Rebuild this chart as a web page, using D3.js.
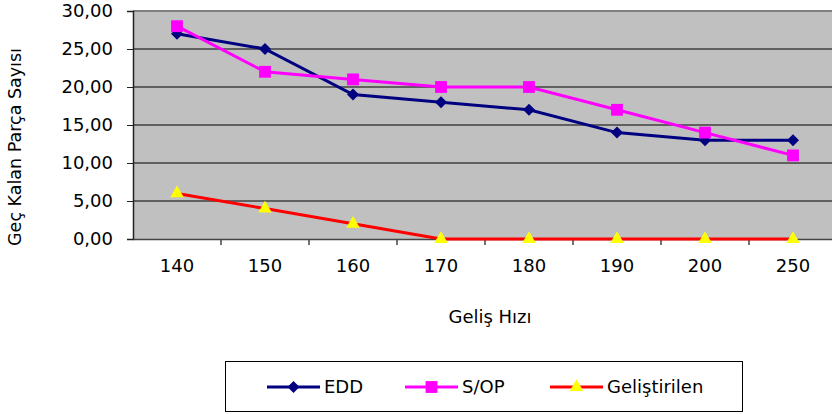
<!DOCTYPE html>
<html>
<head>
<meta charset="utf-8">
<script src="https://cdn.jsdelivr.net/npm/d3@7"></script>
<style>
  html, body { margin: 0; padding: 0; background: #fff; }
  svg { display: block; font-family: "DejaVu Sans", sans-serif; }
</style>
</head>
<body>
<svg id="chart"></svg>
<script>
const categories = ["140", "150", "160", "170", "180", "190", "200", "250"];
const eddValues = [27, 25, 19, 18, 17, 14, 13, 13];
const sopValues = [28, 22, 21, 20, 20, 17, 14, 11];
const gelValues = [6, 4, 2, 0, 0, 0, 0, 0];
const yTicks = [0, 5, 10, 15, 20, 25, 30];
const seriesNames = ["EDD", "S/OP", "Geliştirilen"];

const width = 832, height = 414;
const plot = {left: 133, top: 11, bottom: 239, bandW: 88};

const svg = d3.select("#chart").attr("width", width).attr("height", height);

const x = d3.scaleBand()
  .domain(categories)
  .range([plot.left, plot.left + plot.bandW * categories.length]);
const y = d3.scaleLinear().domain([0, 30]).range([plot.bottom, plot.top]);
const cx = d => x(d) + x.bandwidth() / 2;

// plot area
svg.append("rect")
  .attr("x", plot.left).attr("y", plot.top)
  .attr("width", x.range()[1] - plot.left)
  .attr("height", plot.bottom - plot.top)
  .attr("fill", "#c0c0c0");

// gridlines
svg.append("g").selectAll("line")
  .data(yTicks.filter(t => t > 0 && t < 30))
  .join("line")
  .attr("x1", plot.left).attr("x2", x.range()[1])
  .attr("y1", d => y(d)).attr("y2", d => y(d))
  .attr("stroke", "#000").attr("stroke-width", 1);

svg.append("line")
  .attr("x1", plot.left).attr("x2", x.range()[1])
  .attr("y1", y(30)).attr("y2", y(30))
  .attr("stroke", "#808080").attr("stroke-width", 2);

// y axis
const fmt = d => d3.format(".2f")(d).replace(".", ",");
const yAxis = svg.append("g")
  .attr("transform", `translate(${plot.left},0)`)
  .call(d3.axisLeft(y).tickValues(yTicks).tickFormat(fmt).tickSize(6).tickPadding(14));
yAxis.select(".domain").attr("stroke", "#222").attr("stroke-width", 1.5);
yAxis.selectAll(".tick line").attr("stroke", "#222");
yAxis.selectAll("text").attr("font-size", 18).attr("fill", "#000")
  .attr("font-family", "DejaVu Sans");

// x axis
const xAxis = svg.append("g")
  .attr("transform", `translate(0,${plot.bottom})`)
  .call(d3.axisBottom(x).tickSize(0).tickPadding(20));
xAxis.select(".domain").attr("stroke", "#444").attr("stroke-width", 1.5);
xAxis.selectAll("text").attr("font-size", 18).attr("fill", "#000")
  .attr("font-family", "DejaVu Sans");
xAxis.selectAll(".bnd")
  .data(categories.slice(1))
  .join("line")
  .attr("class", "bnd")
  .attr("x1", d => x(d)).attr("x2", d => x(d))
  .attr("y1", 0).attr("y2", 6)
  .attr("stroke", "#444").attr("stroke-width", 1.5);

// axis titles
svg.append("text")
  .attr("x", 490).attr("y", 323)
  .attr("text-anchor", "middle")
  .attr("font-size", 18).attr("fill", "#000")
  .text("Geliş Hızı");

svg.append("text")
  .attr("transform", "translate(21,147) rotate(-90)")
  .attr("text-anchor", "middle")
  .attr("font-size", 17.5).attr("fill", "#000")
  .text("Geç Kalan Parça Sayısı");

// series
const series = [
  {name: seriesNames[0], values: eddValues, color: "#000080", fill: "#000080",
   sym: d3.symbol(d3.symbolSquare, 72), rot: 45},
  {name: seriesNames[1], values: sopValues, color: "#ff00ff", fill: "#ff00ff",
   sym: d3.symbol(d3.symbolSquare, 140), rot: 0},
  {name: seriesNames[2], values: gelValues, color: "#ff0000", fill: "#ffff00",
   sym: d3.symbol(d3.symbolTriangle, 80), rot: 0}
];

const line = d3.line().x((d, i) => cx(categories[i])).y(d => y(d));

series.forEach(s => {
  const g = svg.append("g");
  g.append("path")
    .attr("d", line(s.values))
    .attr("fill", "none")
    .attr("stroke", s.color)
    .attr("stroke-width", 3);
  g.selectAll("path.m")
    .data(s.values)
    .join("path")
    .attr("class", "m")
    .attr("d", s.sym)
    .attr("transform", (d, i) => `translate(${cx(categories[i])},${y(d)}) rotate(${s.rot})`)
    .attr("fill", s.fill);
});

// legend
const legend = svg.append("g");
legend.append("rect")
  .attr("x", 225.5).attr("y", 361.5)
  .attr("width", 517).attr("height", 50)
  .attr("fill", "#fff").attr("stroke", "#000").attr("stroke-width", 1);

const legX = [267, 405, 550];
series.forEach((s, i) => {
  const g = legend.append("g").attr("transform", `translate(${legX[i]},387)`);
  g.append("line").attr("x1", 0).attr("x2", 53)
    .attr("stroke", s.color).attr("stroke-width", 3);
  g.append("path").attr("d", s.sym)
    .attr("transform", `translate(26.5,0) rotate(${s.rot})`)
    .attr("fill", s.fill);
  g.append("text").attr("x", 57).attr("y", 0).attr("dy", "0.36em")
    .attr("font-size", 18).attr("fill", "#000")
    .text(s.name);
});
</script>
</body>
</html>
